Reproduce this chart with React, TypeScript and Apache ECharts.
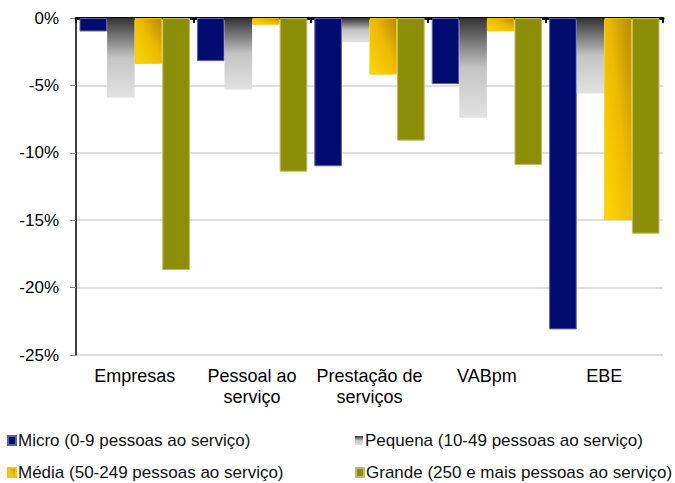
import React, { useEffect, useRef } from "react";
import * as echarts from "echarts";

const categories = ["Empresas", "Pessoal ao\nserviço", "Prestação de\nserviços", "VABpm", "EBE"];
const seriesNames = [
  "Micro (0-9 pessoas ao serviço)",
  "Pequena (10-49 pessoas ao serviço)",
  "Média (50-249 pessoas ao serviço)",
  "Grande (250 e mais pessoas ao serviço)",
];
const micro = [-1.0, -3.2, -11.0, -4.9, -23.1];
const pequena = [-5.9, -5.3, -1.8, -7.4, -5.6];
const media = [-3.4, -0.5, -4.2, -1.0, -15.0];
const grande = [-18.7, -11.4, -9.1, -10.9, -16.0];

const FONT = "Arial, 'Liberation Sans', sans-serif";

export default function App() {
  const ref = useRef<HTMLDivElement>(null);
  useEffect(() => {
    if (!ref.current) return;
    const chart = echarts.init(ref.current, undefined, { renderer: "svg" });
    const grad = (stops: [number, string][], x = 0, y = 0, x2 = 0, y2 = 1) =>
      new echarts.graphic.LinearGradient(x, y, x2, y2, stops.map(([offset, color]) => ({ offset, color })));
    const colors = [
      "#020B70",
      grad([[0, "#333333"], [0.5, "#c4c4c4"], [1, "#e2e2e2"]]),
      grad([[0, "#FFD800"], [0.55, "#EDBA00"], [1, "#B8860A"]], 0, 1, 1, 0),
      "#8B8E06",
    ];
    const borders = ["#5a62a8", "#d8d8d8", "#f0c800", "#bcbe60"];
    const data = [micro, pequena, media, grande];
    const legendPos = [
      { left: 2, top: 427 },
      { left: 350, top: 427 },
      { left: 2, top: 459 },
      { left: 350, top: 459 },
    ];
    chart.setOption({
      animation: false,
      grid: { left: 76, top: 18, right: 12, bottom: 128 },
      legend: seriesNames.map((n, i) => ({
        data: [n],
        ...legendPos[i],
        icon: "rect",
        itemWidth: 8,
        itemHeight: 9,
        itemGap: 0,
        textStyle: { fontFamily: FONT, fontSize: 17, color: "#111", padding: [0, 0, 0, -3] },
      })),
      xAxis: [
        {
          type: "category",
          data: categories,
          position: "bottom",
          axisLine: { show: false },
          axisTick: { show: false },
          axisLabel: {
            fontFamily: FONT,
            fontSize: 18,
            color: "#000",
            lineHeight: 21,
            margin: 10,
            interval: 0,
          },
        },
        {
          type: "category",
          data: categories,
          position: "top",
          axisLine: { show: true, onZero: false, lineStyle: { color: "#000", width: 3 } },
          axisTick: { show: true, inside: true, length: 5, lineStyle: { color: "#000", width: 2 } },
          axisLabel: { show: false },
        },
      ],
      yAxis: {
        type: "value",
        min: -25,
        max: 0,
        interval: 5,
        axisLine: { show: true, lineStyle: { color: "#000", width: 1.5 } },
        axisTick: { show: true, length: 6, lineStyle: { color: "#888" } },
        splitLine: { show: true, lineStyle: { color: "#d4d4d4", width: 1.5 } },
        axisLabel: {
          fontFamily: FONT,
          fontSize: 17,
          color: "#000",
          margin: 17,
          formatter: (v: number) => `${v}%`,
        },
      },
      series: seriesNames.map((n, i) => ({
        name: n,
        type: "bar",
        xAxisIndex: 0,
        data: data[i],
        barGap: "0%",
        barCategoryGap: "6%",
        itemStyle: { color: colors[i], borderColor: borders[i], borderWidth: i === 1 ? 0 : 1 },
      })),
    });
    return () => chart.dispose();
  }, []);
  return <div ref={ref} style={{ width: 675, height: 483, position: "absolute", left: 0, top: 0 }} />;
}
